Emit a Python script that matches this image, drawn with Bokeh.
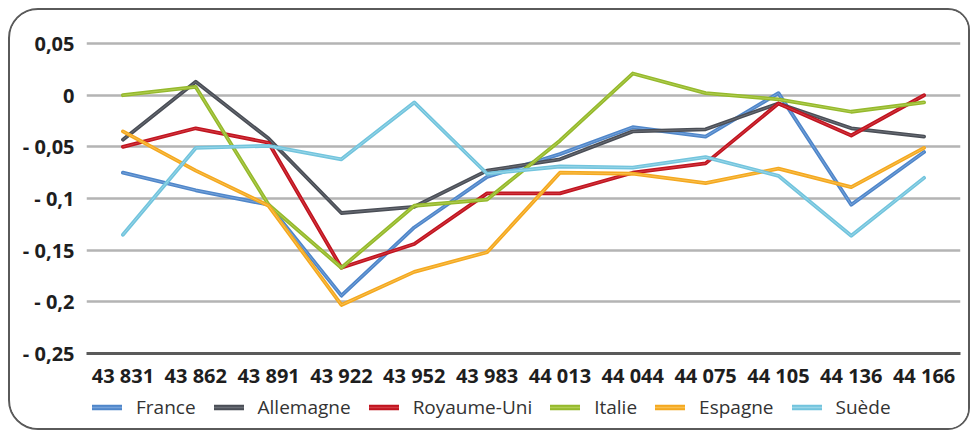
from bokeh.plotting import figure
from bokeh.layouts import column
from bokeh.models import FactorRange, Range1d, FixedTicker, Legend, LegendItem, ColumnDataSource
from bokeh.embed import file_html
from bokeh.resources import INLINE

categories = ["43 831", "43 862", "43 891", "43 922", "43 952", "43 983",
              "44 013", "44 044", "44 075", "44 105", "44 136", "44 166"]

france = [-0.075, -0.092, -0.106, -0.194, -0.128, -0.079, -0.057, -0.031, -0.040, 0.002, -0.106, -0.055]
allemagne = [-0.043, 0.013, -0.042, -0.114, -0.108, -0.073, -0.062, -0.035, -0.033, -0.008, -0.032, -0.040]
royaume_uni = [-0.050, -0.032, -0.046, -0.167, -0.144, -0.095, -0.095, -0.075, -0.066, -0.008, -0.039, 0.000]
italie = [0.000, 0.008, -0.106, -0.167, -0.107, -0.101, -0.044, 0.021, 0.002, -0.004, -0.016, -0.007]
espagne = [-0.035, -0.073, -0.107, -0.203, -0.171, -0.152, -0.075, -0.076, -0.085, -0.071, -0.089, -0.051]
suede = [-0.135, -0.051, -0.049, -0.062, -0.007, -0.076, -0.069, -0.070, -0.060, -0.078, -0.136, -0.080]

series_names = ["France", "Allemagne", "Royaume-Uni", "Italie", "Espagne", "Suède"]
series_values = [france, allemagne, royaume_uni, italie, espagne, suede]
series_colors = ["#4f86c9", "#4a4e56", "#c0141f", "#95b92c", "#f4a81f", "#72c4dd"]
series_highlights = ["#8fb6e6", "#80848c", "#e0545c", "#c4dc6c", "#fcd070", "#b4e2f0"]

y_ticks = [-0.25, -0.2, -0.15, -0.1, -0.05, 0.0, 0.05]
y_tick_labels = ["- 0,25", "- 0,2", "- 0,15", "- 0,1", "- 0,05", "0", "0,05"]

x_range = FactorRange(*categories)

p = figure(frame_width=874, frame_height=312, x_range=x_range,
           y_range=Range1d(-0.25, 0.052), output_backend="svg", toolbar_location=None,
           min_border_left=76, min_border_right=8, min_border_top=31, min_border_bottom=40)
p.outline_line_color = None
p.background_fill_color = "white"
p.border_fill_color = "white"

p.xgrid.grid_line_color = None
p.ygrid.grid_line_color = "#b4b4b4"
p.ygrid.grid_line_width = 2.5
p.yaxis.ticker = FixedTicker(ticks=y_ticks)
p.yaxis.major_label_overrides = {t: l for t, l in zip(y_ticks, y_tick_labels)}
p.yaxis.axis_line_color = None
p.yaxis.major_tick_line_color = None
p.yaxis.minor_tick_line_color = None
p.yaxis.major_label_standoff = 6
p.yaxis.major_label_text_font = "Open Sans"
p.yaxis.major_label_text_font_style = "bold"
p.yaxis.major_label_text_font_size = "20px"
p.yaxis.major_label_text_color = "#1e1e1e"

p.xaxis.axis_line_color = "#5a5a5a"
p.xaxis.axis_line_width = 3
p.xaxis.major_tick_line_color = None
p.xaxis.minor_tick_line_color = None
p.xaxis.major_label_standoff = 2
p.xaxis.major_label_text_font = "Open Sans"
p.xaxis.major_label_text_font_style = "bold"
p.xaxis.major_label_text_font_size = "20px"
p.xaxis.major_label_text_color = "#1e1e1e"

# legend strip below the chart
q = figure(width=958, height=35, x_range=x_range, y_range=Range1d(0, 1),
           output_backend="svg", toolbar_location=None, min_border=0)
q.axis.visible = False
q.grid.grid_line_color = None
q.outline_line_color = None
q.background_fill_color = "white"
q.border_fill_color = "white"

items = []
for name, vals, col, hi in zip(series_names, series_values, series_colors, series_highlights):
    src = ColumnDataSource(dict(x=categories, y=vals))
    p.line("x", "y", source=src, line_color=col, line_width=3.8, line_join="round", line_cap="round")
    p.line("x", "y", source=src, line_color=hi, line_width=1.0, line_alpha=0.6, line_join="round", line_cap="round")
    q1 = q.line("x", "y", source=src, line_color=col, line_width=5.5, line_cap="round", visible=False)
    q2 = q.line("x", "y", source=src, line_color=hi, line_width=1.5, line_alpha=0.6, line_cap="round", visible=False)
    items.append(LegendItem(label=name, renderers=[q1, q2]))

legend = Legend(items=items, orientation="horizontal", location=(6, 8),
                label_text_font="Open Sans", label_text_font_size="19px",
                label_text_color="#333333", glyph_width=30, glyph_height=20,
                label_standoff=14, spacing=18, padding=2, margin=0,
                border_line_color=None, background_fill_alpha=0,
                inactive_fill_alpha=0)
q.add_layout(legend, "center")

layout = column(p, q, spacing=0,
                styles={"border": "2px solid #5a5a5a", "border-radius": "30px 22px 22px 30px",
                        "margin-left": "8px", "margin-top": "8px", "background": "white",
                        "overflow": "hidden"})

open("out.html", "w").write(file_html(layout, INLINE))
